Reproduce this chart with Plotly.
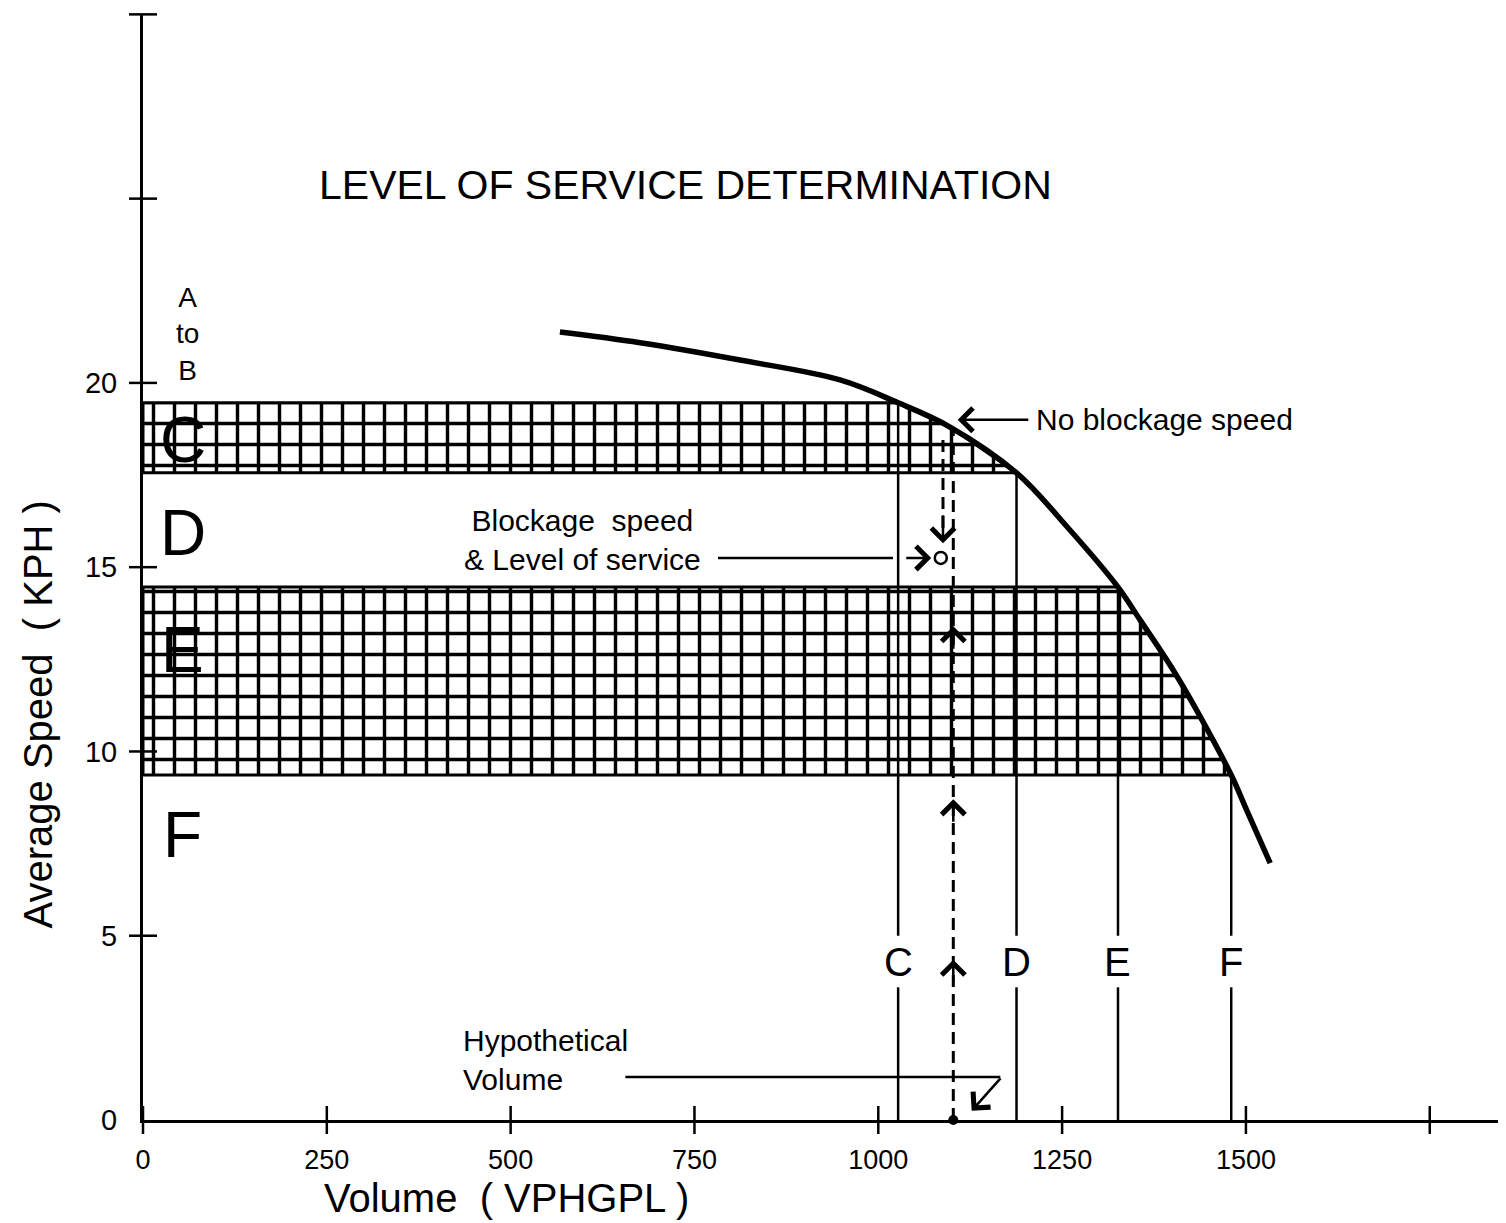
import plotly.graph_objects as go

# axis ticks
vol_ticks = [0, 250, 500, 750, 1000, 1250, 1500, 1750]
vol_labels = ["0", "250", "500", "750", "1000", "1250", "1500", ""]
speed_ticks = [0, 5, 10, 15, 20, 25, 30]
speed_labels = ["0", "5", "10", "15", "20", "", ""]

# speed-volume curve
curve_volume = [567, 676, 812, 948, 1027, 1097, 1188, 1257, 1326, 1356, 1401, 1438, 1480, 1501, 1533]
curve_speed = [21.38, 21.09, 20.62, 20.08, 19.46, 18.81, 17.56, 16.09, 14.46, 13.57, 12.21, 10.94, 9.36, 8.41, 6.97]

# hatched level-of-service bands (speed bounds)
band_c = [17.56, 19.46]
band_e = [9.36, 14.46]

# level-of-service volume limits
los_labels = ["C", "D", "E", "F"]
los_volume = [1027, 1188, 1326, 1480]
los_speed_top = [19.46, 17.56, 14.46, 9.36]

# left-hand band letters
band_letters = ["C", "D", "E", "F"]
band_letter_speed = [18.45, 15.93, 12.75, 7.73]

# worked example
hyp_volume = 1102
no_block_speed = 18.75
block_volume = 1085
block_speed = 15.25

FONT = "Liberation Sans, Arial, sans-serif"
X_MAX = 1853.7
Y_MAX = 30.01

fig = go.Figure()


def band_polygon(lo, hi):
    pts = [(v, s) for v, s in zip(curve_volume, curve_speed) if lo <= s <= hi]
    xs = [0, 0] + [p[0] for p in pts] + [0]
    ys = [lo, hi] + [p[1] for p in pts] + [lo]
    return xs, ys


for lo, hi in [band_c, band_e]:
    bx, by = band_polygon(lo, hi)
    fig.add_trace(
        go.Scatter(
            x=bx,
            y=by,
            mode="lines",
            fill="toself",
            fillcolor="white",
            fillpattern=dict(
                shape="+", size=21, solidity=0.3, fgcolor="black", bgcolor="white",
                fgopacity=1, fillmode="replace",
            ),
            line=dict(color="black", width=3),
            hoverinfo="skip",
        )
    )

# level lines with a gap for the letter
lx, ly = [], []
for v, top in zip(los_volume, los_speed_top):
    lx += [v, v, None, v, v, None]
    ly += [0, 3.6, None, 5.0, top, None]
fig.add_trace(go.Scatter(x=lx, y=ly, mode="lines", line=dict(color="black", width=2.5), hoverinfo="skip"))

# curve
fig.add_trace(
    go.Scatter(
        x=curve_volume,
        y=curve_speed,
        mode="lines",
        line=dict(color="black", width=5.5, shape="spline", smoothing=1),
        hoverinfo="skip",
    )
)

# dashed construction lines
fig.add_trace(
    go.Scatter(
        x=[hyp_volume, hyp_volume],
        y=[0, no_block_speed],
        mode="lines",
        line=dict(color="black", width=3, dash="12px,7px"),
        hoverinfo="skip",
    )
)
fig.add_trace(
    go.Scatter(
        x=[hyp_volume - 14, hyp_volume - 14],
        y=[no_block_speed - 0.3, block_speed + 0.5],
        mode="lines",
        line=dict(color="black", width=3, dash="12px,7px"),
        hoverinfo="skip",
    )
)

# pointer lines
fig.add_trace(
    go.Scatter(
        x=[782, 1020, None, 656, 1166],
        y=[block_speed, block_speed, None, 1.17, 1.17],
        mode="lines",
        line=dict(color="black", width=2.5),
        hoverinfo="skip",
    )
)

# blockage point and hypothetical volume point
fig.add_trace(
    go.Scatter(
        x=[block_volume],
        y=[block_speed],
        mode="markers",
        marker=dict(symbol="circle-open", size=12, color="black", line=dict(width=2.5)),
        hoverinfo="skip",
    )
)
fig.add_trace(
    go.Scatter(
        x=[hyp_volume],
        y=[0],
        mode="markers",
        marker=dict(symbol="circle", size=10, color="black"),
        cliponaxis=False,
        hoverinfo="skip",
    )
)

# crossing tick marks
fig.add_trace(
    go.Scatter(
        x=vol_ticks,
        y=[0] * len(vol_ticks),
        mode="markers",
        marker=dict(symbol="line-ns", size=20, line=dict(color="black", width=2.5)),
        cliponaxis=False,
        hoverinfo="skip",
    )
)
fig.add_trace(
    go.Scatter(
        x=[0] * len(speed_ticks[1:]),
        y=speed_ticks[1:],
        mode="markers",
        marker=dict(symbol="line-ew", size=20, line=dict(color="black", width=2.5)),
        cliponaxis=False,
        hoverinfo="skip",
    )
)

ann = []


def arrow(x, y, ax, ay, data_ref=True):
    d = dict(
        x=x, y=y, ax=ax, ay=ay, text="", showarrow=True,
        arrowhead=4, arrowsize=1.8, arrowwidth=2.5, arrowcolor="black",
    )
    if data_ref:
        d.update(axref="x", ayref="y")
    ann.append(d)


# no blockage speed arrow
arrow(1108, 19.0, 1206, 19.0)
# arrow to the blockage point
arrow(1072, block_speed, 1036, block_speed)
# down arrow onto the blockage point
arrow(hyp_volume - 14, block_speed + 0.4, hyp_volume - 14, block_speed + 1.2)
# up chevrons on the dashed line
for s in [13.4, 8.7, 4.35]:
    arrow(hyp_volume, s, 0, 24, data_ref=False)
# hypothetical volume arrow
arrow(1127, 0.25, 1168, 1.17)


def label(text, x, y, size, paper=False, **kw):
    d = dict(text=text, x=x, y=y, showarrow=False, font=dict(family=FONT, size=size, color="black"))
    if paper:
        d.update(xref="paper", yref="paper", x=x / X_MAX, y=y / Y_MAX,
                 xanchor="center", yanchor="middle")
    d.update(kw)
    ann.append(d)


label("LEVEL OF SERVICE DETERMINATION", 738, 25.37, 41)
label("A<br>to<br>B", 61, 21.33, 28)
for t, s in zip(band_letters, band_letter_speed):
    label(t, 54, s, 64)
for t, v in zip(los_labels, los_volume):
    label(t, v, 4.29, 40)
label("No blockage speed", 1212, 19.0, 30, xanchor="left")
label("Blockage  speed<br>&amp; Level of service", 598, 15.75, 30)
label("Hypothetical<br>Volume", 432, 1.63, 30, xanchor="left", align="left")
label("Volume  ( VPHGPL )", 494, -2.12, 40, paper=True)
label("Average Speed  ( KPH )", -143, 11.0, 40, paper=True, textangle=-90)

# the page body has an 8px margin, so the figure is shrunk by that much
fig.update_layout(
    width=1498,
    height=1215,
    margin=dict(l=135, r=0, t=6, b=103),
    plot_bgcolor="white",
    paper_bgcolor="white",
    showlegend=False,
    annotations=ann,
    font=dict(family=FONT, color="black"),
    xaxis=dict(
        range=[0, X_MAX],
        tickvals=vol_ticks,
        ticktext=vol_labels,
        ticks="",
        ticklabelstandoff=14,
        tickfont=dict(size=27),
        showgrid=False,
        zeroline=False,
        showline=True,
        linecolor="black",
        linewidth=3,
    ),
    yaxis=dict(
        range=[0, Y_MAX],
        tickvals=speed_ticks,
        ticktext=speed_labels,
        ticks="",
        ticklabelstandoff=17,
        tickfont=dict(size=29),
        showgrid=False,
        zeroline=False,
        showline=True,
        linecolor="black",
        linewidth=3,
    ),
)

fig.write_html("out.html")
